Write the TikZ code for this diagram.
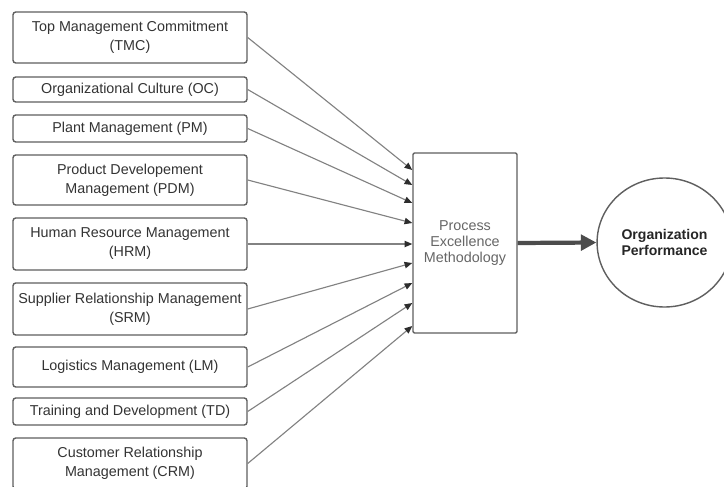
\documentclass[tikz,border=0pt]{standalone}
\usepackage{fontspec}
\setmainfont{Liberation Sans}
\usetikzlibrary{calc, arrows.meta, shapes.geometric}

\newcommand{\pxu}{0.025cm}
\definecolor{boxline}{RGB}{95,95,95}
\definecolor{feedline}{RGB}{130,130,130}
\definecolor{tipcol}{RGB}{45,45,45}

\tikzset{
    factor/.style={draw=boxline, line width=1pt, rounded corners=2pt, fill=white,
        minimum width=234*\pxu, align=center, text=black!80,
        font=\fontsize{10.2}{13.5}\selectfont},
    method/.style={draw=boxline, line width=1pt, rounded corners=1pt,
        minimum width=104*\pxu, minimum height=180*\pxu, align=center, text=black!60,
        font=\fontsize{10.2}{11.5}\selectfont},
    outcome/.style={ellipse, draw=boxline, line width=1pt,
        minimum width=119*\pxu, minimum height=129*\pxu, align=center, text=black!85,
        font=\fontsize{10}{11}\selectfont\bfseries},
    feed/.style={draw=feedline, line width=0.8pt,
        -{Triangle[length=5.5pt, width=4.5pt, color=tipcol]}},
    result/.style={draw=black!70, line width=3pt,
        -{Triangle[length=11pt, width=11pt]}}
}

\begin{document}
\begin{tikzpicture}[x=\pxu, y=-\pxu]
    \useasboundingbox[fill=white] (0,0) rectangle (724,487);

    % factors on the left
    \node[factor, minimum height=51*\pxu] (tmc) at (130,37.5) {Top Management Commitment\\(TMC)};
    \node[factor, minimum height=25*\pxu] (oc) at (130,89.5) {Organizational Culture (OC)};
    \node[factor, minimum height=27*\pxu] (pm) at (130,128.5) {Plant Management (PM)};
    \node[factor, minimum height=50*\pxu] (pdm) at (130,180) {Product Developement\\Management (PDM)};
    \node[factor, minimum height=52*\pxu] (hrm) at (130,244) {Human Resource Management\\(HRM)};
    \node[factor, minimum height=52*\pxu] (srm) at (130,309) {Supplier Relationship Management\\(SRM)};
    \node[factor, minimum height=40*\pxu] (lm) at (130,367) {Logistics Management (LM)};
    \node[factor, minimum height=27*\pxu] (td) at (130,411.5) {Training and Development (TD)};
    \node[factor, minimum height=51*\pxu] (crm) at (130,463.5) {Customer Relationship\\Management (CRM)};

    % methodology and outcome
    \node[method] (pem) at (465,243) {Process\\Excellence\\Methodology};
    \node[outcome] (perf) at (664.5,242.5) {Organization\\Performance};

    % arrows into the methodology box
    \foreach \src/\dy in {tmc/-73, oc/-58, pm/-40, pdm/-20, hrm/1, srm/20, lm/40, td/60, crm/83}
        \draw[feed] (\src.east) -- ($(pem.west)+(0,\dy)$);

    % thick arrow to performance
    \draw[result] (pem.east) -- (perf.west);
\end{tikzpicture}
\end{document}
